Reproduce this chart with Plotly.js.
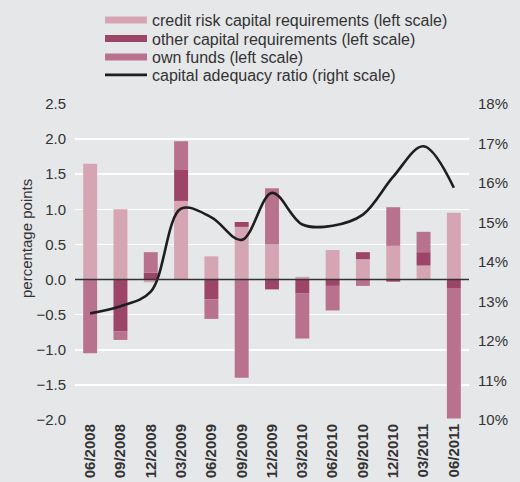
<!DOCTYPE html>
<html>
<head>
<meta charset="utf-8">
<script src="https://cdn.plot.ly/plotly-3.0.1.min.js"></script>
<style>html,body{margin:0;padding:0;background:#e6e7e9;}#chart{width:520px;height:482px;}</style>
</head>
<body>
<div id="chart"></div>
<script>
const categories = ["06/2008","09/2008","12/2008","03/2009","06/2009","09/2009","12/2009","03/2010","06/2010","09/2010","12/2010","03/2011","06/2011"];
const creditRisk = [1.65, 1.00, -0.04, 1.12, 0.33, 0.75, 0.50, 0.04, 0.42, 0.29, 0.48, 0.20, 0.95];
const otherReq   = [0.00, -0.74, 0.10, 0.45, -0.28, 0.07, -0.14, -0.20, -0.09, 0.10, -0.03, 0.19, -0.12];
const ownFunds   = [-1.05, -0.12, 0.29, 0.40, -0.28, -1.40, 0.80, -0.64, -0.35, -0.09, 0.55, 0.29, -1.86];
const capitalRatio = [12.70, 12.88, 13.25, 15.35, 15.13, 14.56, 15.75, 14.95, 14.92, 15.20, 16.16, 16.93, 15.88];
const seriesNames = ["credit risk capital requirements (left scale)", "other capital requirements (left scale)", "own funds (left scale)", "capital adequacy ratio (right scale)"];

const colCredit = "#d5a5b4", colOther = "#9d4569", colOwn = "#b8728d", colLine = "#1e1e1e";
const fontFam = "Liberation Sans, Arial, sans-serif";

const data = [
  {type:"bar", x:categories, y:creditRisk, name:seriesNames[0], marker:{color:colCredit}, showlegend:false},
  {type:"bar", x:categories, y:otherReq, name:seriesNames[1], marker:{color:colOther}, showlegend:false},
  {type:"bar", x:categories, y:ownFunds, name:seriesNames[2], marker:{color:colOwn}, showlegend:false},
  {type:"scatter", mode:"lines", x:categories, y:capitalRatio, yaxis:"y2", name:seriesNames[3], line:{color:colLine, width:2.6, shape:"spline", smoothing:1}, showlegend:false},
  {type:"scatter", mode:"lines", x:[null], y:[null], name:seriesNames[0], legend:"legend", line:{color:colCredit, width:7}},
  {type:"scatter", mode:"lines", x:[null], y:[null], name:seriesNames[1], legend:"legend2", line:{color:colOther, width:7}},
  {type:"scatter", mode:"lines", x:[null], y:[null], name:seriesNames[2], legend:"legend3", line:{color:colOwn, width:7}},
  {type:"scatter", mode:"lines", x:[null], y:[null], name:seriesNames[3], legend:"legend4", line:{color:colLine, width:2.6}}
];

function leg(yPx){
  return {x:(100-75)/394, y:(420-yPx)/316, xanchor:"left", yanchor:"middle", bgcolor:"rgba(0,0,0,0)",
          font:{family:fontFam, size:16, color:"#333"}, itemwidth:42};
}

const layout = {
  width:520, height:482,
  margin:{l:75, r:51, t:104, b:62, pad:0, autoexpand:false},
  paper_bgcolor:"#e6e7e9", plot_bgcolor:"#e6e7e9",
  font:{family:fontFam, size:15, color:"#333"},
  barmode:"relative", bargap:0.54,
  showlegend:true,
  legend:leg(20), legend2:leg(38.5), legend3:leg(57), legend4:leg(75),
  xaxis:{type:"category", range:[-0.5,12.5], tickangle:-90, showgrid:false, zeroline:false, showline:false, ticks:"",
         tickfont:{family:fontFam, size:15, color:"#333", weight:"bold"}, fixedrange:true, automargin:false},
  yaxis:{range:[-2,2.5], dtick:0.5, tickformat:".1f", showgrid:true, gridcolor:"#ffffff", gridwidth:1.5,
         zeroline:false, showline:false, ticks:"", ticklabelstandoff:8, automargin:false},
  yaxis2:{overlaying:"y", side:"right", range:[10,18], dtick:1, ticksuffix:"%", showgrid:false, zeroline:false,
          showline:false, ticks:"", ticklabelstandoff:8, automargin:false},
  annotations:[{text:"percentage points", textangle:-90, xref:"paper", yref:"paper", x:(27-75)/394, y:(420-239)/316,
                xanchor:"center", yanchor:"middle", showarrow:false, font:{family:fontFam, size:15, color:"#333"}}],
  shapes:[{type:"line", xref:"paper", x0:0, x1:1, yref:"y", y0:0, y1:0, line:{color:"#333", width:1.5}, layer:"above"}]
};

Plotly.newPlot("chart", data, layout, {displayModeBar:false, staticPlot:true});
</script>
</body>
</html>
